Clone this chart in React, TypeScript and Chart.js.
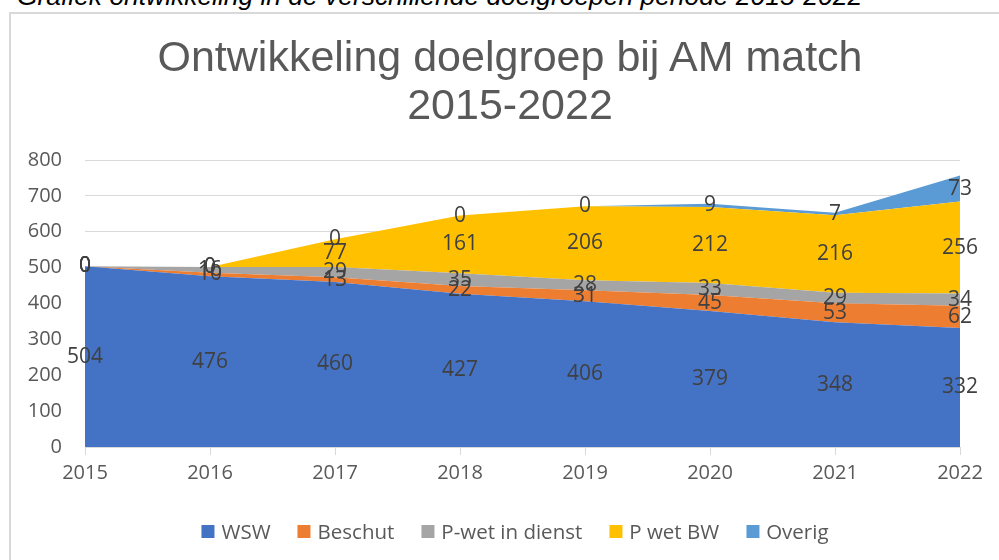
import React, { useEffect, useRef } from "react";
import { Chart, registerables } from "chart.js";

Chart.register(...registerables);

const years = ["2015", "2016", "2017", "2018", "2019", "2020", "2021", "2022"];
const wsw = [504, 476, 460, 427, 406, 379, 348, 332];
const beschut = [0, 10, 13, 22, 31, 45, 53, 62];
const pwetInDienst = [0, 16, 29, 35, 28, 33, 29, 34];
const pwetBW = [0, 0, 77, 161, 206, 212, 216, 256];
const overig = [0, 0, 0, 0, 0, 9, 7, 73];

const seriesNames = ["WSW", "Beschut", "P-wet in dienst", "P wet BW", "Overig"];
const seriesColors = ["#4472C4", "#ED7D31", "#A5A5A5", "#FFC000", "#5B9BD5"];
const seriesData = [wsw, beschut, pwetInDienst, pwetBW, overig];
const yTicks = [0, 100, 200, 300, 400, 500, 600, 700, 800];

const labelPlugin = {
  id: "bandLabels",
  afterDatasetsDraw(chart: any) {
    const ctx = chart.ctx;
    const y = chart.scales.y;
    ctx.save();
    ctx.font = "21px 'Open Sans'";
    ctx.fillStyle = "#404040";
    ctx.textAlign = "center";
    ctx.textBaseline = "middle";
    chart.data.datasets.forEach((ds: any, i: number) => {
      const meta = chart.getDatasetMeta(i);
      ds.data.forEach((v: number, j: number) => {
        let below = 0;
        for (let k = 0; k < i; k++) below += chart.data.datasets[k].data[j];
        const py = y.getPixelForValue(below + v / 2);
        const px = meta.data[j].x;
        ctx.fillText(String(v), px, py);
      });
    });
    ctx.restore();
  },
};

export default function App() {
  const ref = useRef<HTMLCanvasElement>(null);
  useEffect(() => {
    if (!ref.current) return;
    const chart = new Chart(ref.current, {
      type: "line",
      data: {
        labels: years,
        datasets: seriesData.map((d, i) => ({
          label: seriesNames[i],
          data: d,
          backgroundColor: seriesColors[i],
          borderColor: seriesColors[i],
          borderWidth: 0,
          pointRadius: 0,
          tension: 0,
          fill: i === 0 ? "origin" : "-1",
        })),
      },
      options: {
        animation: false,
        responsive: false,
        maintainAspectRatio: false,
        layout: { padding: { left: 0, right: 39, top: 147, bottom: 73 } },
        plugins: {
          legend: { display: false },
          title: { display: false },
          tooltip: { enabled: false },
        },
        scales: {
          x: {
            offset: false,
            grid: {
              drawOnChartArea: false,
              drawTicks: true,
              tickLength: 8,
              color: "#d9d9d9",
            },
            border: { display: true, color: "#d9d9d9", width: 1 },
            ticks: {
              color: "#595959",
              font: { family: "'Open Sans'", size: 20 },
              padding: 6,
              maxRotation: 0,
            },
            afterFit: (s: any) => {
              s.height = 40;
            },
          },
          y: {
            stacked: true,
            min: 0,
            max: 800,
            afterBuildTicks: (s: any) => {
              s.ticks = yTicks.map((v) => ({ value: v }));
            },
            grid: { color: "#d9d9d9", drawTicks: false, lineWidth: 1 },
            border: { display: false },
            ticks: {
              color: "#595959",
              font: { family: "'Open Sans'", size: 20 },
              padding: 23,
            },
            afterFit: (s: any) => {
              s.width = 75;
            },
          },
        },
      },
      plugins: [labelPlugin],
    });
    return () => chart.destroy();
  }, []);

  return (
    <div
      style={{
        position: "fixed",
        left: 0,
        top: 0,
        width: 999,
        height: 560,
        overflow: "hidden",
        background: "#ffffff",
      }}
    >
      <div
        style={{
          position: "absolute",
          left: 17,
          top: -17,
          fontFamily: "'Liberation Sans', Arial, sans-serif",
          fontStyle: "italic",
          fontSize: 26.4,
          lineHeight: "26px",
          whiteSpace: "nowrap",
          color: "#000",
        }}
      >
        Grafiek ontwikkeling in de verschillende doelgroepen periode 2015-2022
      </div>
      <div
        style={{
          position: "absolute",
          left: 9,
          top: 12,
          width: 1000,
          height: 560,
          border: "2px solid #d9d9d9",
          boxSizing: "border-box",
        }}
      />
      <canvas
        ref={ref}
        width={989}
        height={547}
        style={{ position: "absolute", left: 10, top: 13, width: 989, height: 547 }}
      />
      <div
        style={{
          position: "absolute",
          left: 510,
          top: 32,
          transform: "translateX(-50%)",
          fontFamily: "'Liberation Sans', Arial, sans-serif",
          fontSize: 43,
          lineHeight: "48px",
          color: "#595959",
          textAlign: "center",
          whiteSpace: "nowrap",
        }}
      >
        Ontwikkeling doelgroep bij AM match
        <br />
        2015-2022
      </div>
      <div
        style={{
          position: "absolute",
          left: 515,
          top: 517,
          transform: "translateX(-50%)",
          display: "flex",
          alignItems: "center",
          whiteSpace: "nowrap",
          fontFamily: "'Open Sans', sans-serif",
          fontSize: 20.5,
          lineHeight: "28px",
          color: "#595959",
        }}
      >
        {seriesNames.map((n, i) => (
          <div
            key={n}
            style={{ display: "flex", alignItems: "center", marginRight: i < seriesNames.length - 1 ? 27 : 0 }}
          >
            <span
              style={{
                display: "inline-block",
                width: 13,
                height: 13,
                background: seriesColors[i],
                marginRight: 7,
              }}
            />
            <span>{n}</span>
          </div>
        ))}
      </div>
    </div>
  );
}
